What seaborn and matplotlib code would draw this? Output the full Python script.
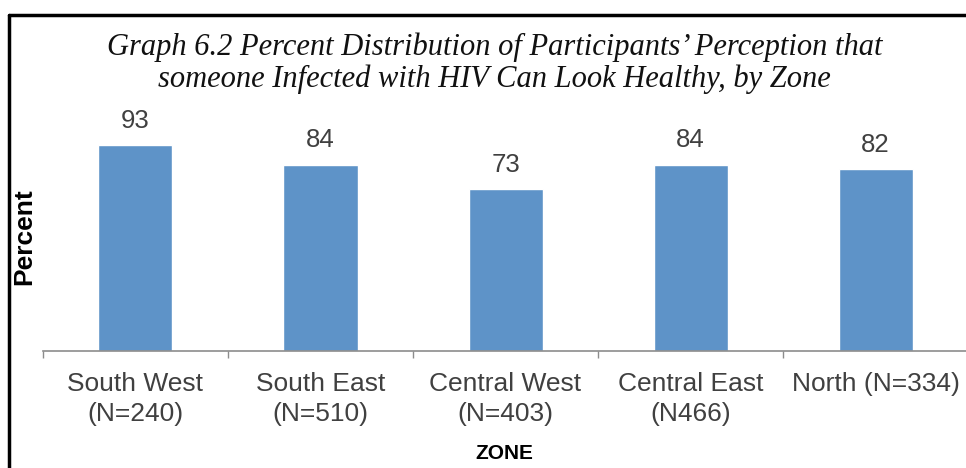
import matplotlib
matplotlib.use("Agg")
import matplotlib.pyplot as plt
from matplotlib.lines import Line2D
from matplotlib.ticker import FixedLocator
import pandas as pd
import seaborn as sns

# chart data
zones = ["South West\n(N=240)", "South East\n(N=510)", "Central West\n(N=403)",
         "Central East\n(N466)", "North (N=334)"]
percent = [93, 84, 73, 84, 82]

title = ("Graph 6.2 Percent Distribution of Participants\u2019 Perception that\n"
         "someone Infected with HIV Can Look Healthy, by Zone")

sns.set_theme(style="white")
plt.rcParams["font.family"] = ["Liberation Sans", "DejaVu Sans"]

df = pd.DataFrame({"zone": zones, "percent": percent})

fig = plt.figure(figsize=(9.66, 4.68), dpi=100)
ax = fig.add_axes([0.0445, 0.25, 0.9576, 0.4733])

sns.barplot(data=df, x="zone", y="percent", color="#5E93C8", width=0.4,
            saturation=1, ax=ax)

ax.set_xlim(-0.5, len(zones) - 0.5)
ax.set_ylim(0, 100)

# value labels
for i, v in enumerate(percent):
    ax.annotate(str(v), (i, v), xytext=(0, 9), textcoords="offset points",
                ha="center", va="bottom", fontsize=18.5, color="#404040")

# axes styling
for s in ["left", "top", "right"]:
    ax.spines[s].set_visible(False)
ax.spines["bottom"].set_color("#8C8C8C")
ax.spines["bottom"].set_linewidth(1.2)
ax.set_yticks([])
ax.tick_params(axis="x", which="major", length=0, pad=15, labelsize=19,
               labelcolor="#404040")
for lbl in ax.get_xticklabels():
    lbl.set_linespacing(1.3)
ax.xaxis.set_minor_locator(FixedLocator([i - 0.5 for i in range(len(zones) + 1)]))
ax.tick_params(axis="x", which="minor", bottom=True, length=5, width=1,
               color="#8C8C8C")

ax.set_xlabel("")
ax.set_ylabel("")
fig.text(0.522, 0.032, "ZONE", ha="center", va="center", fontsize=15,
         fontweight="bold", color="black")
fig.text(0.025, 0.494, "Percent", rotation=90, ha="center", va="center",
         fontsize=19, fontweight="bold", color="black")

fig.text(0.512, 0.865, title, ha="center", va="center", fontsize=22,
         fontstyle="italic", family=["Liberation Serif", "DejaVu Serif"],
         color="#111111", linespacing=1.12)

# partial frame (top and left lines)
fig.add_artist(Line2D([0.009, 1.0], [0.968, 0.968], color="black", lw=2.5,
                      transform=fig.transFigure))
fig.add_artist(Line2D([0.0095, 0.0095], [0.0, 0.968], color="black", lw=2.5,
                      transform=fig.transFigure))

fig.savefig("out.png", dpi=100)
